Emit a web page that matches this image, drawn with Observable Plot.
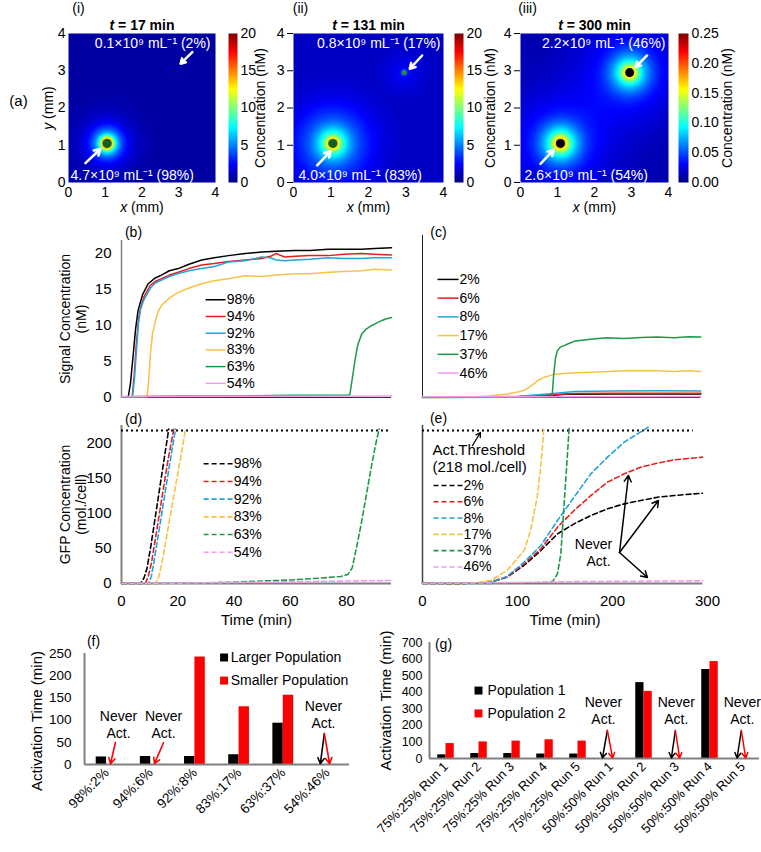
<!DOCTYPE html>
<html><head><meta charset="utf-8">
<script src="https://cdn.jsdelivr.net/npm/d3@7"></script>
<script src="https://cdn.jsdelivr.net/npm/@observablehq/plot@0.6"></script>
<style>
html,body{margin:0;padding:0;background:#fff;}
#fig{position:relative;width:761px;height:852px;overflow:hidden;background:#fff;}
#fig svg{position:absolute;left:0;top:0;overflow:visible;}
</style></head><body><div id="fig"></div>
<script>
// ================= DATA =================
// (a) concentration maps
const mapTimes = ["t = 17 min", "t = 131 min", "t = 300 min"];
const mapTags = ["(i)", "(ii)", "(iii)"];
const mapMax = [20, 20, 0.25];
const mapColorTicks = [[0, 5, 10, 15, 20], [0, 5, 10, 15, 20], [0, 0.05, 0.10, 0.15, 0.20, 0.25]];
const mapTopLabels = ["0.1×10⁹ mL⁻¹ (2%)", "0.8×10⁹ mL⁻¹ (17%)", "2.2×10⁹ mL⁻¹ (46%)"];
const mapBottomLabels = ["4.7×10⁹ mL⁻¹ (98%)", "4.0×10⁹ mL⁻¹ (83%)", "2.6×10⁹ mL⁻¹ (54%)"];
const mapBackground = [0.7, 1.3, 0.012];
// gaussian signal sources (panel, centre, amplitude, spread in mm)
const srcPanel = [0, 0, 0, 0, 1, 1, 1, 1, 1, 2, 2, 2, 2, 2, 2];
const srcX = [1.05, 1.05, 1.05, 2.9, 1.05, 1.05, 1.05, 2.95, 2.95, 1.08, 1.08, 1.08, 2.95, 2.95, 2.95];
const srcY = [1.05, 1.05, 1.05, 3.0, 1.05, 1.05, 1.05, 2.95, 2.95, 1.05, 1.05, 1.05, 2.95, 2.95, 2.95];
const srcAmp = [12, 6, 2.5, 0.6, 8, 5, 4, 2, 1, 0.08, 0.08, 0.03, 0.075, 0.075, 0.028];
const srcSpread = [0.15, 0.35, 0.7, 0.08, 0.15, 0.4, 1.0, 0.1, 0.5, 0.2, 0.5, 1.3, 0.2, 0.5, 1.3];
// colonies
const colonyPanel = [0, 0, 1, 1, 2, 2];
const colonyX = [1.05, 2.9, 1.05, 2.95, 1.08, 2.95];
const colonyY = [1.05, 3.0, 1.05, 2.95, 1.05, 2.95];
// annotation arrows (tail -> head, mm)
const arrowPanel = [0, 0, 1, 1, 2, 2];
const arrowX1 = [3.37, 0.46, 3.43, 0.63, 3.42, 0.54];
const arrowY1 = [3.50, 0.52, 3.41, 0.46, 3.41, 0.50];
const arrowX2 = [3.05, 0.87, 3.10, 0.99, 3.11, 0.90];
const arrowY2 = [3.19, 0.90, 3.05, 0.84, 3.10, 0.88];

// (b) signal, larger populations
const bNames = ["98%", "94%", "92%", "83%", "63%", "54%"];
const bT = [
  [0, 2.4, 3.2, 4.2, 5.0, 5.9, 7.5, 9.5, 12, 14.2, 17, 20.2, 24, 28.5, 33, 38, 44, 49.8, 55, 61.7, 67, 73.5, 79, 85.4, 90, 96],
  [0, 3.8, 4.5, 5.2, 6, 6.8, 8, 10.3, 12, 14.2, 17, 20.2, 24, 28.5, 33, 38, 44, 49.8, 53, 55, 58, 61.7, 67, 73.5, 79, 85.4, 90, 96],
  [0, 3.9, 4.6, 5.3, 6, 6.8, 8, 10.3, 12, 14.2, 17, 20.2, 24, 28.5, 33, 38, 44, 49.8, 53, 55, 58, 61.7, 67, 73.5, 79, 85.4, 90, 96],
  [0, 9.1, 9.8, 10.3, 11, 12.1, 13, 14.2, 17, 20.2, 24, 28.5, 33, 38, 43.9, 50, 55, 61.7, 67, 73.5, 79, 85.4, 90, 96],
  [0, 20, 40, 60, 80, 81.2, 82, 83, 84, 85.4, 87, 89, 91, 92.6, 94, 96],
  [0, 48, 96]
];
const bV = [
  [0.1, 0.1, 2, 6.1, 9.5, 12.1, 14.3, 15.8, 16.6, 17.0, 17.6, 17.9, 18.5, 19.1, 19.4, 19.7, 20.0, 20.2, 20.3, 20.4, 20.4, 20.6, 20.6, 20.6, 20.7, 20.8],
  [0.1, 0.1, 3, 7, 10.7, 12.5, 14, 15.6, 16.1, 16.5, 17.0, 17.4, 17.9, 18.4, 18.6, 18.9, 19.1, 19.3, 19.6, 20.0, 19.5, 19.6, 19.7, 19.7, 19.9, 20.0, 19.9, 19.8],
  [0.1, 0.1, 2.5, 6.5, 10.2, 12.3, 13.6, 15.2, 15.9, 16.3, 16.8, 17.2, 17.6, 17.9, 18.2, 18.8, 19.0, 19.5, 19.4, 19.1, 19.0, 19.1, 19.2, 19.4, 19.3, 19.3, 19.4, 19.4],
  [0.1, 0.1, 3, 6.1, 8.8, 10.7, 11.9, 12.8, 13.8, 14.6, 15.2, 15.8, 16.2, 16.5, 16.9, 16.8, 17.0, 17.2, 17.2, 17.4, 17.5, 17.6, 17.8, 17.7],
  [0.1, 0.2, 0.2, 0.3, 0.3, 0.4, 2.5, 5.1, 7.3, 8.8, 9.5, 10.0, 10.4, 10.7, 10.9, 11.1],
  [0.15, 0.18, 0.2]
];
// (c) signal, smaller populations
const cNames = ["2%", "6%", "8%", "17%", "37%", "46%"];
const cT = [
  [0, 50, 100, 130, 150, 200, 250, 293],
  [0, 100, 140, 160, 200, 250, 293],
  [0, 100, 140, 160, 200, 250, 293],
  [0, 40, 54, 70, 89, 100, 107, 112, 117, 122, 128, 133, 138, 145, 156, 177, 195, 212, 230, 247, 265, 280, 293],
  [0, 100, 130, 136.5, 138, 140, 142, 145, 149, 154, 159.6, 170, 177, 194, 212, 230, 247, 265, 280, 293],
  [0, 150, 293]
];
const cV = [
  [0.05, 0.05, 0.1, 0.25, 0.45, 0.5, 0.5, 0.5],
  [0.05, 0.1, 0.4, 0.55, 0.6, 0.6, 0.6],
  [0.05, 0.15, 0.6, 0.85, 0.9, 0.95, 0.9],
  [0, 0.05, 0.1, 0.2, 0.5, 0.75, 1.0, 1.4, 1.9, 2.4, 2.8, 3.0, 3.2, 3.3, 3.4, 3.5, 3.6, 3.7, 3.7, 3.7, 3.6, 3.7, 3.6],
  [0, 0.05, 0.1, 0.2, 3.0, 5.5, 6.5, 7.0, 7.2, 7.5, 7.8, 8.0, 8.1, 8.3, 8.2, 8.35, 8.4, 8.3, 8.45, 8.4],
  [0.1, 0.12, 0.15]
];
// (d) GFP, larger populations
const dT = [
  [0, 6.8, 8, 9.1, 10.5, 12.6, 14.5, 16.8],
  [0, 8.5, 9.5, 10.7, 12.5, 14.5, 16.5, 18.6],
  [0, 9.7, 10.6, 11.5, 13.2, 15.2, 17.2, 19.2],
  [0, 12.1, 13.3, 14.4, 16.4, 18.6, 20.7, 22.8],
  [0, 10, 20, 30, 40, 50, 60, 70, 78, 80.5, 82, 83.5, 85, 86.8, 88.6, 90.2, 91.6],
  [0, 20, 40, 60, 80, 96]
];
const dV = [
  [0, 0, 8, 22, 55, 110, 160, 220],
  [0, 0, 10, 30, 75, 125, 175, 220],
  [0, 0, 10, 30, 72, 122, 172, 220],
  [0, 0, 10, 30, 75, 125, 172, 220],
  [0, 0, 0.5, 1, 2, 3.5, 5, 7.5, 10, 13, 22, 50, 80, 120, 161, 195, 220],
  [0, 0.5, 1.5, 2.5, 3.5, 4.2]
];
// (e) GFP, smaller populations
const eT = [
  [0, 36.5, 55, 71.6, 89, 107, 124.6, 142.1, 159.6, 177.2, 194.7, 212.3, 229.8, 247.4, 264.9, 294.7],
  [0, 36.5, 55, 71.6, 89, 107, 124.6, 142.1, 159.6, 177.2, 194.7, 212.3, 229.8, 247.4, 264.9, 294.7],
  [0, 36.5, 55, 71.6, 89, 107, 124.6, 142.1, 159.6, 177.2, 194.7, 212.3, 229.8, 238],
  [0, 40, 54, 71.6, 89, 107, 113.7, 120.7, 124, 126, 127.7],
  [0, 50, 100, 130, 137, 142.1, 145.6, 149.1, 152.6, 154.4],
  [0, 50, 100, 150, 200, 250, 295]
];
const eV = [
  [0, 0, 0.5, 1.9, 9, 26, 47, 70.7, 85, 96.8, 106.3, 113.4, 118.2, 122.9, 125.3, 128.6],
  [0, 0, 0.5, 2, 9.5, 28, 49.4, 80.2, 104, 125.3, 144.3, 156.2, 165.7, 171.4, 176.1, 179.9],
  [0, 0, 0.5, 2, 10, 30.4, 54.1, 89.7, 122.9, 156.2, 179.9, 201.3, 216, 223],
  [0, 0, 0.5, 4.3, 18.5, 47, 75.5, 122.9, 160, 190, 222],
  [0, 0, 0.5, 1.5, 3, 13.8, 42.3, 113.4, 184.7, 222],
  [0, 0.5, 1.5, 2.5, 3, 3.5, 3.8]
];
const threshold = 218;

// (f) activation times
const fCats = ["98%:2%", "94%:6%", "92%:8%", "83%:17%", "63%:37%", "54%:46%"];
const fLarger = [17, 18, 18, 22, 93, null];
const fSmaller = [null, null, 242, 130, 156, null];
const fSeries = ["Larger Population", "Smaller Population"];
// (g) activation times
const gCats = ["75%:25% Run 1", "75%:25% Run 2", "75%:25% Run 3", "75%:25% Run 4", "75%:25% Run 5",
               "50%:50% Run 1", "50%:50% Run 2", "50%:50% Run 3", "50%:50% Run 4", "50%:50% Run 5"];
const gPop1 = [22, 30, 30, 27, 27, null, 458, null, 537, null];
const gPop2 = [90, 100, 105, 113, 105, null, 405, null, 585, null];
const gSeries = ["Population 1", "Population 2"];

// ================= STYLE =================
const FONT = '"Liberation Sans", Arial, Helvetica, sans-serif';
const W = 761, H = 852;
const lineColors = ["#000000", "#e3201c", "#23a3dd", "#f7c246", "#1c9a4a", "#f09af0"];
const jetStops = [0, 0.125, 0.375, 0.625, 0.875, 1];
const jetColors = ["#00007f", "#0000ff", "#00ffff", "#ffff00", "#ff0000", "#7f0000"];
const colonyR = [4.5, 1.3, 4.5, 2.5, 4.5, 4.5];
const colonyFill = ["#0d5f24", "#101030", "#0d5f24", "#2e8b3a", "#000000", "#000000"];
const fig = document.getElementById("fig");

function italicLead(svg) {
  svg.querySelectorAll("text").forEach(el => {
    if (el.children.length) return;
    const m = /^([txy])( .+)$/.exec(el.textContent);
    if (!m) return;
    el.textContent = "";
    const a = document.createElementNS("http://www.w3.org/2000/svg", "tspan");
    a.setAttribute("font-style", "italic"); a.textContent = m[1];
    const b = document.createElementNS("http://www.w3.org/2000/svg", "tspan");
    b.textContent = m[2];
    el.append(a, b);
  });
}
function place(frame, fontSize, opts) {
  const [l, t, r, b] = frame;
  const svg = Plot.plot({
    width: W, height: H,
    marginLeft: l, marginTop: t, marginRight: W - r, marginBottom: H - b,
    style: {background: "transparent", fontFamily: FONT, fontSize: fontSize + "px", color: "#000", overflow: "visible"},
    ...opts
  });
  italicLead(svg);
  fig.appendChild(svg);
  return svg;
}
const T = (extra) => ({textAnchor: "middle", lineAnchor: "middle", ...extra});
function jet(max) {
  return {type: "linear", domain: jetStops.map(s => s * max), range: jetColors, interpolate: "rgb", clamp: true};
}
function fieldValue(p, x, y) {
  let v = mapBackground[p];
  for (let k = 0; k < srcPanel.length; k++) {
    if (srcPanel[k] !== p) continue;
    const dx = x - srcX[k], dy = y - srcY[k];
    v += srcAmp[k] * Math.exp(-(dx * dx + dy * dy) / (srcSpread[k] * srcSpread[k]));
  }
  return v;
}

// ================= (a) MAPS =================
const hmFrames = [[68, 33, 215, 182], [293, 33, 443, 182], [520, 33, 668, 182]];
const cbFrames = [[228, 33, 237, 182], [454, 33, 463, 182], [678, 33, 688, 182]];
const cbLabelDx = [23, 27, 39];
const tagDx = [10, 7, 7];
const topDx = [-5, -3, -3], botDx = [2, 5, 4];

mapTimes.forEach((title, p) => {
  const colonies = colonyPanel.map((q, k) => k).filter(k => colonyPanel[k] === p);
  const arrows = arrowPanel.map((q, k) => k).filter(k => arrowPanel[k] === p)
    .map(k => ({x1: arrowX1[k], y1: arrowY1[k], x2: arrowX2[k], y2: arrowY2[k]}));
  const marks = [
    Plot.raster({x1: 0, y1: 0, x2: 4, y2: 4, fill: (x, y) => fieldValue(p, x, y)}),
    ...colonies.map(k => Plot.dot([{x: colonyX[k], y: colonyY[k]}], {x: "x", y: "y", r: colonyR[k], fill: colonyFill[k]})),
    Plot.arrow(arrows, {x1: "x1", y1: "y1", x2: "x2", y2: "y2", stroke: "white", strokeWidth: 2.5, headLength: 7}),
    Plot.text([mapTopLabels[p]], {frameAnchor: "top-right", dx: topDx[p], dy: 10, textAnchor: "end", lineAnchor: "middle", fill: "white", fontSize: 14}),
    Plot.text([mapBottomLabels[p]], {frameAnchor: "bottom-left", dx: botDx[p], dy: -7, textAnchor: "start", lineAnchor: "middle", fill: "white", fontSize: 14}),
    Plot.axisX({ticks: [0, 1, 2, 3, 4], tickFormat: d3.format("d"), tickSize: 0, tickPadding: 5, label: null}),
    Plot.text(["x (mm)"], {frameAnchor: "bottom", dy: 25, ...T({fontSize: 14})}),
    Plot.text([title], {frameAnchor: "top", dy: -8, ...T({fontSize: 14, fontWeight: "bold"})}),
    Plot.text([mapTags[p]], {frameAnchor: "top-left", dx: tagDx[p], dy: -25, ...T({fontSize: 14})})
  ];
  if (p === 0) {
    marks.push(
      Plot.axisY({ticks: [0, 1, 2, 3, 4], tickFormat: d3.format("d"), tickSize: 0, tickPadding: 3, label: null}),
      Plot.text(["y (mm)"], {frameAnchor: "left", dx: -20, rotate: -90, ...T({fontSize: 14})}),
      Plot.text(["(a)"], {frameAnchor: "left", dx: -50, dy: -7, ...T({fontSize: 15})})
    );
  }
  place(hmFrames[p], 14, {
    x: {domain: [0, 4]}, y: {domain: [0, 4]},
    color: jet(mapMax[p]),
    marks
  });
  // colour bar
  const fmt = mapMax[p] < 1 ? d3.format(".2f") : d3.format("d");
  place(cbFrames[p], 14, {
    x: {domain: [0, 1], axis: null}, y: {domain: [0, mapMax[p]]},
    color: jet(mapMax[p]),
    marks: [
      Plot.raster({x1: 0, y1: 0, x2: 1, y2: mapMax[p], fill: (x, y) => y}),
      Plot.axisY({anchor: "right", ticks: mapColorTicks[p], tickFormat: fmt, tickSize: 0, tickPadding: 3, label: null}),
      Plot.text(["Concentration (nM)"], {frameAnchor: "right", dx: cbLabelDx[p], rotate: -90, ...T({fontSize: 14})})
    ]
  });
});

// ================= (b)-(e) TIME SERIES =================
function rows(names, ts, vs) {
  return names.flatMap((name, k) => ts[k].map((t, j) => ({series: name, color: lineColors[k], t, v: vs[k][j]})));
}
function legend(names, y0, step) {
  return names.map((name, i) => ({name, color: lineColors[i], ly: y0 - i * step}));
}
// (b)
place([121, 240, 391, 397], 15, {
  x: {domain: [0, 96], axis: null}, y: {domain: [0, 21.8]}, color: {type: "identity"},
  marks: [
    Plot.ruleX([0], {stroke: "#7f7f7f", strokeWidth: 1.5}),
    Plot.ruleY([0], {stroke: "#333", strokeWidth: 1}),
    Plot.line(rows(bNames, bT, bV), {x: "t", y: "v", z: "series", stroke: "color", strokeWidth: 1.5}),
    Plot.axisY({ticks: [0, 5, 10, 15, 20], tickSize: 0, tickPadding: 10, label: null}),
    Plot.link(legend(bNames, 13.57, 2.32), {x1: d => 29.9, x2: d => 37.0, y1: "ly", y2: "ly", stroke: "color", strokeWidth: 1.5}),
    Plot.text(legend(bNames, 13.57, 2.32), {x: d => 37.4, y: "ly", text: "name", textAnchor: "start", fontSize: 14}),
    Plot.text(["Signal Concentration\n(nM)"], {frameAnchor: "left", dx: -49, rotate: -90, lineHeight: 1.15, ...T({fontSize: 14})}),
    Plot.text(["(b)"], {frameAnchor: "top-left", dx: 12, dy: -8, ...T({fontSize: 14})})
  ]
});
// (c)
place([422, 235, 707, 397], 15, {
  x: {domain: [0, 300], axis: null}, y: {domain: [0, 22.5], axis: null}, color: {type: "identity"},
  marks: [
    Plot.ruleX([0], {stroke: "#222", strokeWidth: 1}),
    Plot.ruleY([0], {x1: d => 0, x2: d => 293, stroke: "#222", strokeWidth: 1}),
    Plot.line(rows(cNames, cT, cV), {x: "t", y: "v", z: "series", stroke: "color", strokeWidth: 1.5}),
    Plot.link(legend(cNames, 16.4, 2.6), {x1: d => 15.8, x2: d => 37.9, y1: "ly", y2: "ly", stroke: "color", strokeWidth: 1.5}),
    Plot.text(legend(cNames, 16.4, 2.6), {x: d => 38.9, y: "ly", text: "name", textAnchor: "start", fontSize: 14}),
    Plot.text(["(c)"], {frameAnchor: "top-left", dx: 16, dy: -3, ...T({fontSize: 14})})
  ]
});
// (d)
place([121, 425, 391, 583], 15, {
  x: {domain: [0, 96]}, y: {domain: [0, 225]}, color: {type: "identity"},
  marks: [
    Plot.ruleX([0], {stroke: "#7f7f7f", strokeWidth: 2}),
    Plot.ruleY([0], {stroke: "#7f7f7f", strokeWidth: 2}),
    Plot.ruleY([threshold], {stroke: "#000", strokeWidth: 2, strokeDasharray: "2,3"}),
    Plot.line(rows(bNames, dT, dV), {x: "t", y: "v", z: "series", stroke: "color", strokeWidth: 1.6, strokeDasharray: "5,3"}),
    Plot.axisY({ticks: [0, 50, 100, 150, 200], tickSize: 0, tickPadding: 10, label: null}),
    Plot.axisX({ticks: [0, 20, 40, 60, 80], tickSize: 0, tickPadding: 12, label: null}),
    Plot.link(legend(bNames, 170.5, 25.2), {x1: d => 29.2, x2: d => 39.5, y1: "ly", y2: "ly", stroke: "color", strokeWidth: 1.6, strokeDasharray: "5,3"}),
    Plot.text(legend(bNames, 170.5, 25.2), {x: d => 39.9, y: "ly", text: "name", textAnchor: "start", fontSize: 14}),
    Plot.text(["GFP Concentration\n(mol./cell)"], {frameAnchor: "left", dx: -49, rotate: -90, lineHeight: 1.15, ...T({fontSize: 14})}),
    Plot.text(["Time (min)"], {frameAnchor: "bottom", dy: 37, ...T({fontSize: 15})}),
    Plot.text(["(d)"], {frameAnchor: "top-left", dx: 12, dy: -6, ...T({fontSize: 14})})
  ]
});
// (e)
const eNeverTail = [[207.4, 44.1], [207.4, 44.1], [207.4, 44.1]];
const eNeverHead = [[216.8, 153.8], [248.4, 118.2], [236.8, 8.5]];
place([422, 425, 707, 583], 15, {
  x: {domain: [0, 300]}, y: {domain: [0, 225], axis: null}, color: {type: "identity"},
  marks: [
    Plot.ruleX([0], {stroke: "#444", strokeWidth: 1.5}),
    Plot.ruleY([0], {x1: d => 0, x2: d => 295, stroke: "#7f7f7f", strokeWidth: 2}),
    Plot.ruleY([threshold], {x1: d => 0, x2: d => 285, stroke: "#000", strokeWidth: 2, strokeDasharray: "2,3"}),
    Plot.line(rows(cNames, eT, eV), {x: "t", y: "v", z: "series", stroke: "color", strokeWidth: 1.6, strokeDasharray: "5,3"}),
    Plot.axisX({ticks: [0, 100, 200, 300], tickSize: 0, tickPadding: 12, label: null}),
    Plot.link(legend(cNames, 139.6, 23.2), {x1: d => 11.6, x2: d => 42.1, y1: "ly", y2: "ly", stroke: "color", strokeWidth: 1.6, strokeDasharray: "5,3"}),
    Plot.text(legend(cNames, 139.6, 23.2), {x: d => 43.2, y: "ly", text: "name", textAnchor: "start", fontSize: 14}),
    Plot.text(["Act.Threshold"], {x: d => 10.5, y: d => 189.4, textAnchor: "start", fontSize: 15}),
    Plot.text(["(218 mol./cell)"], {x: d => 10.5, y: d => 165.2, textAnchor: "start", fontSize: 15}),
    Plot.arrow([0], {x1: d => 52.6, y1: d => 196.5, x2: d => 61, y2: d => 215, stroke: "#000", strokeWidth: 1.3, headLength: 6}),
    Plot.text(["Never"], {x: d => 180, y: d => 55.5, ...T({fontSize: 14})}),
    Plot.text(["Act."], {x: d => 185.3, y: d => 31.3, ...T({fontSize: 14})}),
    Plot.arrow(d3.range(eNeverTail.length), {x1: i => eNeverTail[i][0], y1: i => eNeverTail[i][1], x2: i => eNeverHead[i][0], y2: i => eNeverHead[i][1], stroke: "#000", strokeWidth: 1.5, headLength: 7}),
    Plot.text(["Time (min)"], {frameAnchor: "bottom", dy: 37, ...T({fontSize: 15})}),
    Plot.text(["(e)"], {frameAnchor: "top-left", dx: 16, dy: -7, ...T({fontSize: 14})})
  ]
});

// ================= (f) (g) BARS =================
function barRows(a, b) {
  const out = [];
  a.forEach((v, i) => { if (v != null) out.push({g: i, s: 0, v}); });
  b.forEach((v, i) => { if (v != null) out.push({g: i, s: 1, v}); });
  return out;
}
const fRows = barRows(fLarger, fSmaller);
const fNeverText = [[0.27, 91], [1.29, 91], [4.91, 113.7]];
const fNeverArrow = [[0.20, 49.5, 0.09, 2, 1], [1.29, 49.5, 1.085, 2, 1], [4.93, 69.8, 4.84, 2, 0], [4.93, 69.8, 5.05, 2, 1]];
place([84, 653, 349, 764], 13.5, {
  x: {domain: [-0.5, 5.5]}, y: {domain: [0, 250]},
  marks: [
    Plot.rect(fRows.filter(d => d.s === 0), {x1: d => d.g - 0.235, x2: d => d.g, y1: d => 0, y2: "v", fill: "#000"}),
    Plot.rect(fRows.filter(d => d.s === 1), {x1: d => d.g, x2: d => d.g + 0.235, y1: d => 0, y2: "v", fill: "#ff0000"}),
    Plot.ruleX([-0.5], {stroke: "#808080", strokeWidth: 2}),
    Plot.ruleY([0], {stroke: "#808080", strokeWidth: 2}),
    Plot.axisY({ticks: [0, 50, 100, 150, 200, 250], tickSize: 0, tickPadding: 13, label: null}),
    Plot.axisX({ticks: d3.range(fCats.length), tickFormat: i => fCats[i], tickRotate: -45, tickSize: 0, tickPadding: 6, label: null}),
    Plot.dot(fSeries, {x: d => 2.66, y: (d, i) => 241 - i * 52, symbol: "square", r: 4.5, fill: (d, i) => i ? "#ff0000" : "#000"}),
    Plot.text(fSeries, {x: d => 2.81, y: (d, i) => 241 - i * 52, textAnchor: "start", fontSize: 14}),
    Plot.text(fNeverText, {x: d => d[0], y: d => d[1], text: d => "Never\nAct.", lineHeight: 1.2, ...T({fontSize: 14})}),
    Plot.arrow(fNeverArrow, {x1: d => d[0], y1: d => d[1], x2: d => d[2], y2: d => d[3], stroke: d => d[4] ? "#ff0000" : "#000", strokeWidth: 1.6, headLength: 6}),
    Plot.text(["Activation Time (min)"], {frameAnchor: "left", dx: -47, dy: 12, rotate: -90, ...T({fontSize: 15})}),
    Plot.text(["(f)"], {frameAnchor: "top-left", dx: 9, dy: -12, ...T({fontSize: 14})})
  ]
});
const gRows = barRows(gPop1, gPop2);
const gNeverText = [[4.77, 293], [6.98, 293], [8.98, 293]];
const gNeverArrow = [[4.89, 169, 4.74, 3, 0], [4.89, 169, 5.05, 3, 1], [6.95, 169, 6.83, 3, 0], [6.95, 169, 7.08, 3, 1], [8.95, 169, 8.82, 3, 0], [8.95, 169, 9.08, 3, 1]];
place([429, 642, 759, 758], 12.5, {
  x: {domain: [-0.5, 9.5]}, y: {domain: [0, 700]},
  marks: [
    Plot.rect(gRows.filter(d => d.s === 0), {x1: d => d.g - 0.25, x2: d => d.g, y1: d => 0, y2: "v", fill: "#000"}),
    Plot.rect(gRows.filter(d => d.s === 1), {x1: d => d.g, x2: d => d.g + 0.25, y1: d => 0, y2: "v", fill: "#ff0000"}),
    Plot.ruleX([-0.5], {stroke: "#808080", strokeWidth: 2}),
    Plot.ruleY([0], {stroke: "#808080", strokeWidth: 2}),
    Plot.axisY({ticks: [0, 100, 200, 300, 400, 500, 600, 700], tickSize: 0, tickPadding: 7, label: null}),
    Plot.axisX({ticks: d3.range(gCats.length), tickFormat: i => gCats[i], tickRotate: -45, tickSize: 0, tickPadding: 6, label: null, fontSize: 13}),
    Plot.dot(gSeries, {x: d => 0.985, y: (d, i) => 410 - i * 138, symbol: "square", r: 4.5, fill: (d, i) => i ? "#ff0000" : "#000"}),
    Plot.text(gSeries, {x: d => 1.26, y: (d, i) => 410 - i * 138, textAnchor: "start", fontSize: 14}),
    Plot.text(gNeverText, {x: d => d[0], y: d => d[1], text: d => "Never\nAct.", lineHeight: 1.2, ...T({fontSize: 14})}),
    Plot.arrow(gNeverArrow, {x1: d => d[0], y1: d => d[1], x2: d => d[2], y2: d => d[3], stroke: d => d[4] ? "#ff0000" : "#000", strokeWidth: 1.5, headLength: 6}),
    Plot.text(["Activation Time (min)"], {frameAnchor: "left", dx: -43, rotate: -90, ...T({fontSize: 15})}),
    Plot.text(["(g)"], {frameAnchor: "top-left", dx: 14, dy: 2, ...T({fontSize: 14})})
  ]
});
</script></body></html>
